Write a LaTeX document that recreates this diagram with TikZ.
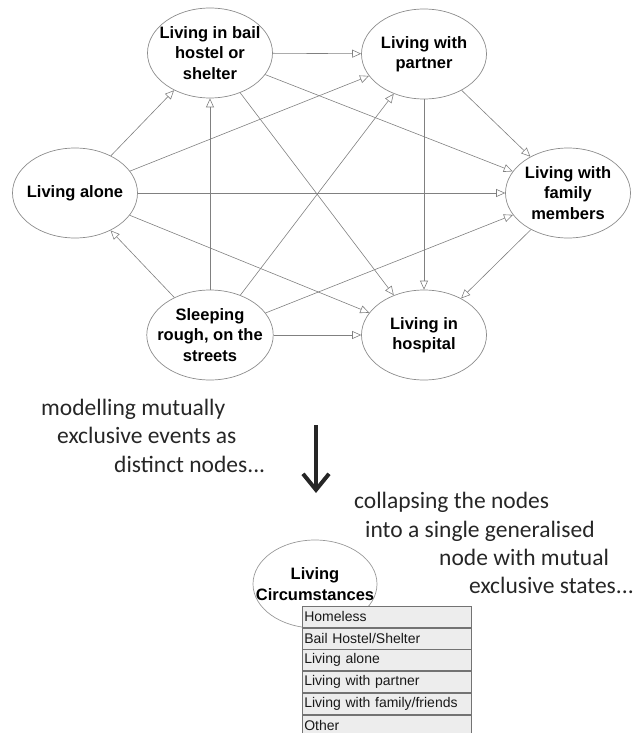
\documentclass[tikz,border=0pt]{standalone}
\usepackage{fontspec}
\setmainfont{Liberation Sans}
\newfontfamily\notefont{Carlito}
\usetikzlibrary{arrows.meta, shapes.geometric, positioning}

\tikzset{
	state/.style = {ellipse, draw = black!45, line width = 0.7pt, minimum width = 125pt, minimum height = 90pt,
		inner sep = -8pt, align = center, font = \fontsize{16.5}{20.5}\selectfont\bfseries},
	link/.style = {draw = black!50, line width = 0.6pt, -{Triangle[open, length = 9pt, width = 8pt]}},
	note/.style = {anchor = base west, inner sep = 0pt, text = black!85, font = \notefont\fontsize{23.5}{28}\selectfont},
	cell/.style = {draw = black!55, fill = black!7, line width = 0.7pt, minimum width = 169pt, minimum height = 21pt,
		inner xsep = 2pt, inner ysep = 0pt, text width = 165pt, align = left, text = black!90,
		font = \fontsize{14}{16}\selectfont, anchor = north west}
}

\begin{document}
\begin{tikzpicture}[x = 1pt, y = -1pt]
	\useasboundingbox (0,0) rectangle (637,733);
	
	% the distinct nodes
	\node [state] (bail) at (210,53) {Living in bail\\hostel or\\shelter};
	\node [state] (partner) at (424,54) {Living with\\partner};
	\node [state] (alone) at (75,193) {Living alone};
	\node [state] (family) at (568,193) {Living with\\family\\members};
	\node [state] (rough) at (210,335) {Sleeping\\rough, on the\\streets};
	\node [state] (hospital) at (424,335) {Living in\\hospital};
	
	\foreach \from/\to in {bail/partner, bail/family, bail/hospital,
		alone/bail, alone/partner, alone/family, alone/hospital,
		partner/family, partner/hospital, family/hospital,
		rough/alone, rough/bail, rough/partner, rough/family, rough/hospital}
		\draw [link] (\from) -- (\to);
	
	% notes
	\node [note] (m1) at (41,415) {modelling mutually};
	\node [note] (m2) at (57,443) {exclusive events as};
	\node [note] (m3) at (114,472) {distinct nodes...};
	
	\coordinate (arrtop) at (316,425);
	\coordinate (arrtip) at (316,493);
	\draw [black!85, line width = 4pt, -{Straight Barb[length = 16pt, width = 26pt]}] (arrtop) -- (arrtip);
	
	\node [note] (c1) at (354,508) {collapsing the nodes};
	\node [note] (c2) at (365,537) {into a single generalised};
	\node [note] (c3) at (439,565) {node with mutual};
	\node [note] (c4) at (469,593) {exclusive states...};
	
	% the generalised node
	\node [state, draw = black!40, minimum width = 124pt, minimum height = 88pt, inner xsep = -16pt] (circ) at (315,584) {Living\\Circumstances};
	
	\node [cell] (s1) at (302,606) {Homeless};
	\node [cell] (s2) at (s1.south west) {Bail Hostel/Shelter};
	\node [cell] (s3) at (s2.south west) {Living alone};
	\node [cell] (s4) at (s3.south west) {Living with partner};
	\node [cell] (s5) at (s4.south west) {Living with family/friends};
	\node [cell] (s6) at (s5.south west) {Other};
\end{tikzpicture}
\end{document}
